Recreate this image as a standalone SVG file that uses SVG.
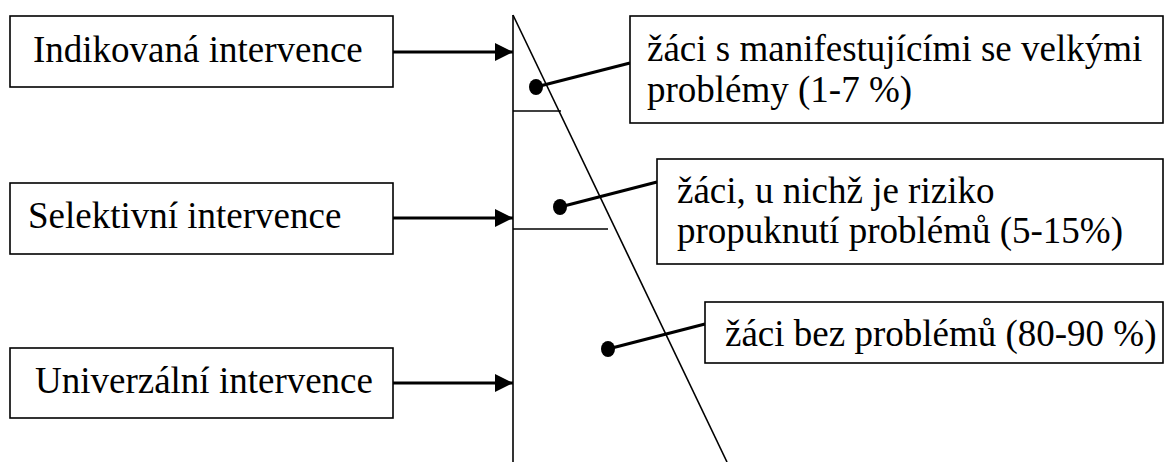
<svg xmlns="http://www.w3.org/2000/svg" width="1173" height="462" viewBox="0 0 1173 462">
<defs>
<marker id="ah" markerUnits="userSpaceOnUse" markerWidth="20" markerHeight="20" viewBox="0 0 20 20" refX="18" refY="10" orient="auto">
<path d="M0,1 L18,10 L0,19 Z" fill="#000"/>
</marker>
</defs>
<rect width="1173" height="462" fill="#fff"/>
<g id="pyramid" stroke="#000" stroke-width="1.6" fill="none">
<line x1="513" y1="15" x2="513" y2="462"/>
<line x1="513" y1="15" x2="727" y2="462"/>
<line x1="513" y1="111" x2="561" y2="111"/>
<line x1="513" y1="229" x2="608" y2="229"/>
</g>
<g id="connectors" stroke="#000" stroke-width="3.2" fill="none">
<line x1="393" y1="52" x2="513" y2="52" marker-end="url(#ah)"/>
<line x1="393" y1="218" x2="513" y2="218" marker-end="url(#ah)"/>
<line x1="393" y1="383" x2="513" y2="383" marker-end="url(#ah)"/>
<line x1="536" y1="87" x2="630" y2="63"/>
<line x1="560" y1="207" x2="657" y2="182"/>
<line x1="608" y1="349" x2="705" y2="324"/>
<ellipse cx="536" cy="87" rx="7" ry="8" fill="#000" stroke="none"/>
<ellipse cx="560" cy="207" rx="7" ry="8" fill="#000" stroke="none"/>
<ellipse cx="608" cy="349" rx="7" ry="8" fill="#000" stroke="none"/>
</g>
<g id="indikovana">
<rect x="10" y="16" width="383" height="71" fill="#fff" stroke="#000" stroke-width="1.6"/>
<text x="33" y="62" font-family="Times New Roman, Liberation Serif, serif" font-size="37">Indikovaná intervence</text>
</g>
<g id="selektivni">
<rect x="10" y="183" width="383" height="71" fill="#fff" stroke="#000" stroke-width="1.6"/>
<text x="28" y="228" font-family="Times New Roman, Liberation Serif, serif" font-size="37">Selektivní intervence</text>
</g>
<g id="univerzalni">
<rect x="10" y="348" width="383" height="70" fill="#fff" stroke="#000" stroke-width="1.6"/>
<text x="35" y="393" font-family="Times New Roman, Liberation Serif, serif" font-size="37">Univerzální intervence</text>
</g>
<g id="velke">
<rect x="630" y="16" width="533" height="107" fill="#fff" stroke="#000" stroke-width="1.6"/>
<text x="647" y="61" font-family="Times New Roman, Liberation Serif, serif" font-size="37">žáci s manifestujícími se velkými</text>
<text x="647" y="102" font-family="Times New Roman, Liberation Serif, serif" font-size="37">problémy (1-7 %)</text>
</g>
<g id="riziko">
<rect x="657" y="159" width="506" height="105" fill="#fff" stroke="#000" stroke-width="1.6"/>
<text x="677" y="203" font-family="Times New Roman, Liberation Serif, serif" font-size="37">žáci, u nichž je riziko</text>
<text x="677" y="243" font-family="Times New Roman, Liberation Serif, serif" font-size="37">propuknutí problémů (5-15%)</text>
</g>
<g id="bez">
<rect x="705" y="302" width="458" height="61" fill="#fff" stroke="#000" stroke-width="1.6"/>
<text x="725" y="346" font-family="Times New Roman, Liberation Serif, serif" font-size="37">žáci bez problémů (80-90 %)</text>
</g>
</svg>
